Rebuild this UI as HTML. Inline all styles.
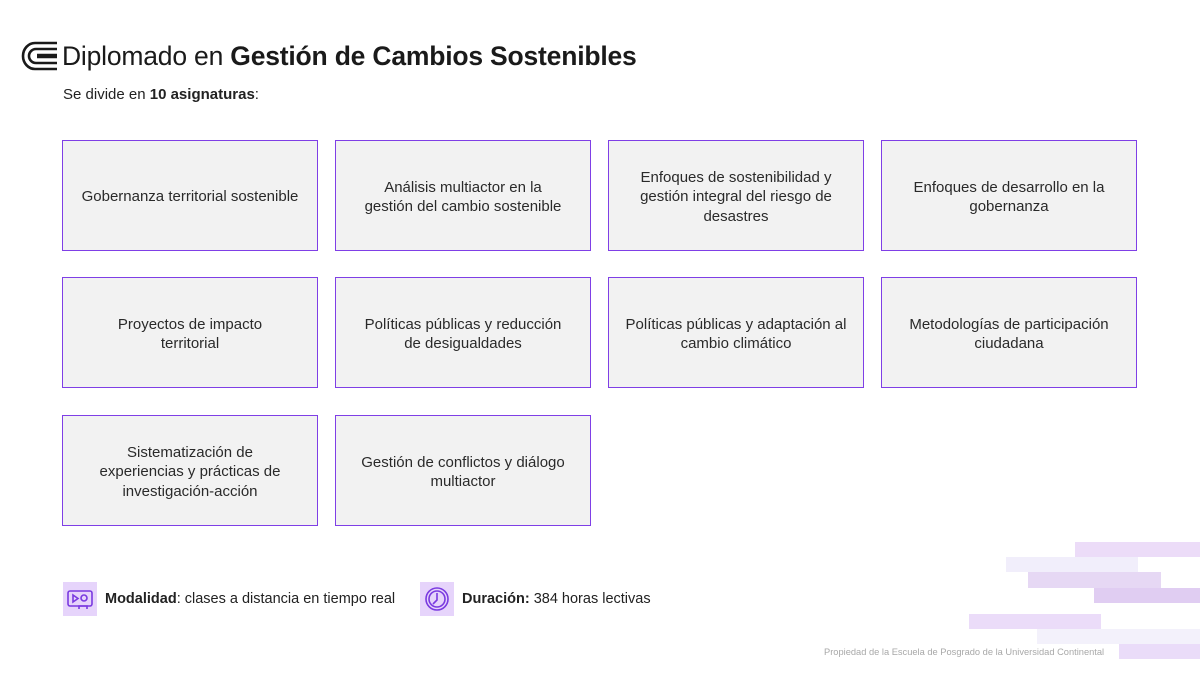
<!DOCTYPE html>
<html><head><meta charset="utf-8"><style>
*{margin:0;padding:0;box-sizing:border-box}
body{width:1200px;height:675px;background:#fff;position:relative;overflow:hidden;font-family:"Liberation Sans",sans-serif;color:#222}
.t{position:absolute;left:62px;top:41px;font-size:26.5px;letter-spacing:-0.2px;color:#1a1a1a}
.s{position:absolute;left:63px;top:86px;font-size:15px;color:#222}
.b{position:absolute;width:256px;height:111px;background:#f2f2f2;border:1.6px solid #7f3fe6;display:flex;align-items:center;justify-content:center;text-align:center;font-size:15px;line-height:19.5px;color:#2a2a2a;padding:3px 6px 0;white-space:nowrap}
.bar{position:absolute}
.ic{position:absolute;width:34px;height:34px;background:#e6d4fb}
.f{position:absolute;top:591px;font-size:14.5px;color:#222}
</style></head><body>
<svg style="position:absolute;left:21px;top:41px" width="38" height="30" viewBox="0 0 38 30">
<g fill="none" stroke="#1a1a1a" stroke-width="2.6">
<path d="M36 2H14A12 13 0 0 0 14 28H36"/>
<path d="M36 8H15A7 7 0 0 0 15 22H36"/>
<path d="M36 14H16"/><path d="M36 16H16"/>
</g></svg>
<div class="t">Diplomado en <b>Gestión de Cambios Sostenibles</b></div>
<div class="s">Se divide en <b>10 asignaturas</b>:</div>

<div class="b" style="left:62px;top:140px">Gobernanza territorial sostenible</div>
<div class="b" style="left:335px;top:140px">Análisis multiactor en la<br>gestión del cambio sostenible</div>
<div class="b" style="left:608px;top:140px">Enfoques de sostenibilidad y<br>gestión integral del riesgo de<br>desastres</div>
<div class="b" style="left:881px;top:140px">Enfoques de desarrollo en la<br>gobernanza</div>
<div class="b" style="left:62px;top:277px">Proyectos de impacto<br>territorial</div>
<div class="b" style="left:335px;top:277px">Políticas públicas y reducción<br>de desigualdades</div>
<div class="b" style="left:608px;top:277px">Políticas públicas y adaptación al<br>cambio climático</div>
<div class="b" style="left:881px;top:277px">Metodologías de participación<br>ciudadana</div>
<div class="b" style="left:62px;top:415px">Sistematización de<br>experiencias y prácticas de<br>investigación-acción</div>
<div class="b" style="left:335px;top:415px">Gestión de conflictos y diálogo<br>multiactor</div>

<div class="ic" style="left:63px;top:582px"><svg width="34" height="34" viewBox="0 0 34 34"><g fill="none" stroke="#7a3ae0" stroke-width="1.6"><rect x="5" y="9" width="24" height="15" rx="2"/><path d="M10 13v7l5-3.5z"/><circle cx="21" cy="16" r="3"/><path d="M16 27v-3h8v3"/></g></svg></div>
<div class="f" style="left:105px"><b>Modalidad</b>: clases a distancia en tiempo real</div>
<div class="ic" style="left:420px;top:582px"><svg width="34" height="34" viewBox="0 0 34 34"><g fill="none" stroke="#7a3ae0" stroke-width="1.6"><circle cx="17" cy="17" r="11"/><circle cx="17" cy="17" r="8"/><path d="M17 11v7l-4 4"/></g></svg></div>
<div class="f" style="left:462px"><b>Duración:</b> 384 horas lectivas</div>

<div class="bar" style="left:1075px;top:542px;width:125px;height:15px;background:#ecdcf8"></div>
<div class="bar" style="left:1006px;top:557px;width:132px;height:15px;background:#f1eefb"></div>
<div class="bar" style="left:1028px;top:572px;width:133px;height:16px;background:#e6d8f4"></div>
<div class="bar" style="left:1094px;top:588px;width:106px;height:15px;background:#e0cdf2"></div>
<div class="bar" style="left:969px;top:614px;width:132px;height:15px;background:#ebdcf9"></div>
<div class="bar" style="left:1037px;top:629px;width:163px;height:15px;background:#f3f1fb"></div>
<div class="bar" style="left:1119px;top:644px;width:81px;height:15px;background:#eadcf9"></div>
<div style="position:absolute;left:824px;top:647px;font-size:9.3px;color:#a8a8a8">Propiedad de la Escuela de Posgrado de la Universidad Continental</div>
</body></html>
